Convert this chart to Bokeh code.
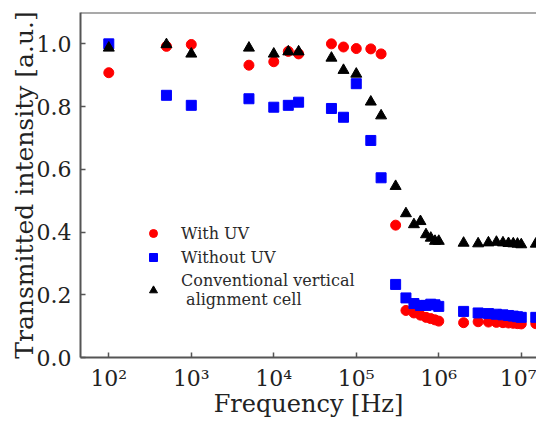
from bokeh.plotting import figure
from bokeh.models import (FixedTicker, PrintfTickFormatter, Legend, LegendItem,
                          Span, Range1d)
from bokeh.embed import file_html
from bokeh.resources import INLINE

# ---- data ----
freq = [1e2, 5e2, 1e3, 5e3, 1e4, 1.5e4, 2e4, 5e4, 7e4, 1e5, 1.5e5, 2e5, 3e5,
        4e5, 5e5, 6e5, 7e5, 8e5, 9e5, 1e6, 2e6, 3e6, 4e6, 5e6, 6e6, 7e6,
        8e6, 9e6, 1e7, 1.5e7]
with_uv = [0.908, 0.992, 0.998, 0.932, 0.943, 0.976, 0.968, 1.0, 0.990, 0.985,
           0.984, 0.968, 0.422, 0.150, 0.142, 0.135, 0.128, 0.124, 0.120, 0.116,
           0.111, 0.114, 0.113, 0.112, 0.111, 0.110, 0.109, 0.108, 0.107, 0.108]
without_uv = [1.0, 0.836, 0.804, 0.825, 0.798, 0.804, 0.814, 0.794, 0.766, 0.873,
              0.692, 0.573, 0.233, 0.190, 0.172, 0.166, 0.166, 0.170, 0.168, 0.163,
              0.147, 0.142, 0.140, 0.138, 0.136, 0.134, 0.132, 0.130, 0.128, 0.128]
conventional = [0.987, 0.998, 0.968, 0.987, 0.968, 0.975, 0.975, 0.955, 0.916, 0.904,
                0.815, 0.771, 0.546, 0.459, 0.424, 0.434, 0.392, 0.381, 0.371, 0.371,
                0.365, 0.363, 0.366, 0.368, 0.366, 0.364, 0.363, 0.362, 0.360, 0.362]

series_labels = ["With UV", "Without UV", "Conventional vertical\n alignment cell"]
x_ticks = [1e2, 1e3, 1e4, 1e5, 1e6, 1e7]
x_tick_labels = ["10\u00b2", "10\u00b3", "10\u2074", "10\u2075", "10\u2076", "10\u2077"]
y_ticks = [0.0, 0.2, 0.4, 0.6, 0.8, 1.0]

FONT = "DejaVu Serif"
AXIS_COLOR = "#555555"

p = figure(width=536, height=420, x_axis_type="log",
           x_range=Range1d(45.4, 1.53e7), y_range=Range1d(0, 1.1),
           output_backend="svg", toolbar_location=None,
           min_border_left=80, min_border_right=0, min_border_top=12,
           min_border_bottom=63)

p.outline_line_color = None
p.xgrid.grid_line_color = None
p.ygrid.grid_line_color = None
p.background_fill_color = "white"
p.border_fill_color = "white"

r1 = p.scatter(freq, with_uv, marker="circle", size=10, fill_color="#ff0000",
               line_color="#ff0000")
r2 = p.scatter(freq, without_uv, marker="square", size=10, fill_color="#0000ff",
               line_color="#0000ff")
r3 = p.scatter(freq, conventional, marker="triangle", size=11, fill_color="black",
               line_color="black")

top = Span(location=1.1, dimension="width", line_color=AXIS_COLOR, line_width=2)
p.add_layout(top)

for ax in (p.xaxis[0], p.yaxis[0]):
    ax.axis_line_color = AXIS_COLOR
    ax.axis_line_width = 2
    ax.major_tick_line_color = AXIS_COLOR
    ax.major_tick_line_width = 1.5
    ax.major_tick_in = 5
    ax.major_tick_out = 0
    ax.minor_tick_line_color = None
    ax.major_label_text_font = FONT
    ax.major_label_text_font_size = "22px"
    ax.major_label_text_color = "#222222"
    ax.major_label_text_line_height = 1.0
    ax.axis_label_text_font = FONT
    ax.axis_label_text_font_style = "normal"
    ax.axis_label_text_color = "#222222"
    ax.axis_label_text_line_height = 1.0

p.xaxis[0].ticker = FixedTicker(ticks=x_ticks)
p.xaxis[0].major_label_overrides = {t: l for t, l in zip(x_ticks, x_tick_labels)}
p.xaxis[0].axis_label = "Frequency [Hz]"
p.xaxis[0].axis_label_text_font_size = "24px"
p.xaxis[0].major_label_standoff = 8
p.xaxis[0].axis_label_standoff = -4

p.yaxis[0].ticker = FixedTicker(ticks=y_ticks)
p.yaxis[0].formatter = PrintfTickFormatter(format="%.1f")
p.yaxis[0].axis_label = "Transmitted intensity [a.u.]"
p.yaxis[0].axis_label_text_font_size = "25px"
p.yaxis[0].major_label_standoff = 9
p.yaxis[0].axis_label_standoff = -5

legend = Legend(items=[LegendItem(label=series_labels[0], renderers=[r1]),
                       LegendItem(label=series_labels[1], renderers=[r2]),
                       LegendItem(label=series_labels[2], renderers=[r3])],
                location=(63, 48), border_line_color=None,
                background_fill_color=None, margin=0, padding=0,
                glyph_width=20, glyph_height=20, label_standoff=18, spacing=4,
                label_text_font=FONT, label_text_font_size="16px",
                label_text_line_height=1.15,
                label_text_color="#2a2a2a")
p.add_layout(legend)

open("out.html", "w").write(file_html(p, INLINE))
